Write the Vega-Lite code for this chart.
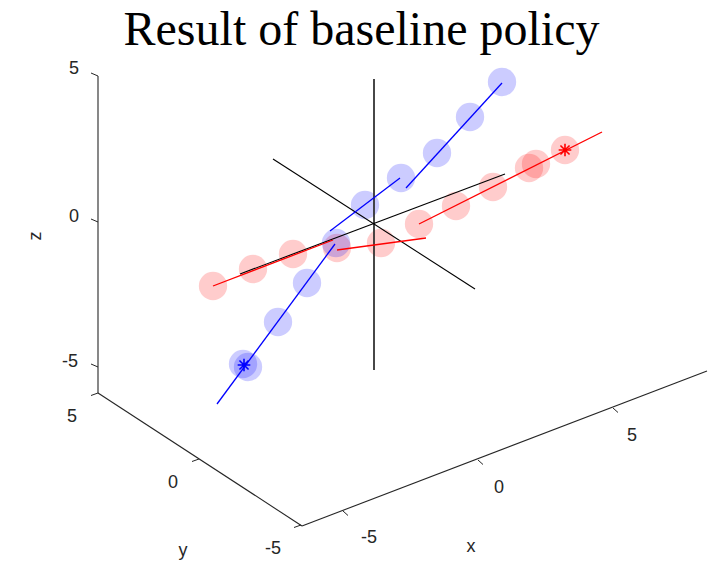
{
  "$schema": "https://vega.github.io/schema/vega-lite/v6.json",
  "width": 723,
  "height": 564,
  "padding": 0,
  "autosize": "none",
  "background": "white",
  "title": {
    "text": "Result of baseline policy",
    "font": "Liberation Serif",
    "fontSize": 48,
    "fontWeight": "normal",
    "color": "#000000",
    "anchor": "middle",
    "frame": "group",
    "offset": 0,
    "baseline": "alphabetic",
    "dy": 93
  },
  "config": {"view": {"stroke": null}},
  "datasets": {
    "circles": [
      {"agent": "red", "u": 213, "v": 286},
      {"agent": "red", "u": 253, "v": 269},
      {"agent": "red", "u": 293, "v": 254},
      {"agent": "red", "u": 337, "v": 248},
      {"agent": "red", "u": 381, "v": 243},
      {"agent": "red", "u": 419, "v": 224},
      {"agent": "red", "u": 456, "v": 206},
      {"agent": "red", "u": 493, "v": 187},
      {"agent": "red", "u": 529, "v": 168},
      {"agent": "red", "u": 536, "v": 164},
      {"agent": "red", "u": 565, "v": 150},
      {"agent": "blue", "u": 243, "v": 364},
      {"agent": "blue", "u": 248, "v": 367},
      {"agent": "blue", "u": 278, "v": 322},
      {"agent": "blue", "u": 307, "v": 283},
      {"agent": "blue", "u": 336, "v": 243},
      {"agent": "blue", "u": 365, "v": 205},
      {"agent": "blue", "u": 401, "v": 178},
      {"agent": "blue", "u": 437, "v": 153},
      {"agent": "blue", "u": 470, "v": 117},
      {"agent": "blue", "u": 502, "v": 82}
    ],
    "paths": [
      {"agent": "red", "u": 213, "v": 286, "u2": 333, "v2": 240},
      {"agent": "red", "u": 337, "v": 250, "u2": 426, "v2": 238},
      {"agent": "red", "u": 419, "v": 224, "u2": 602, "v2": 132},
      {"agent": "blue", "u": 217, "v": 404, "u2": 335, "v2": 244},
      {"agent": "blue", "u": 330, "v": 231, "u2": 400, "v2": 178},
      {"agent": "blue", "u": 406, "v": 188, "u2": 502, "v2": 83}
    ],
    "starts": [
      {"agent": "red", "u": 565, "v": 150},
      {"agent": "blue", "u": 244, "v": 365}
    ],
    "box": [
      {"edge": "z", "u": 98, "v": 76, "u2": 98, "v2": 393},
      {"edge": "y", "u": 98, "v": 393, "u2": 302, "v2": 526},
      {"edge": "x", "u": 302, "v": 526, "u2": 707, "v2": 371}
    ],
    "origin": [
      {"dir": "z", "u": 374, "v": 79, "u2": 374, "v2": 370},
      {"dir": "y", "u": 273, "v": 159, "u2": 475, "v2": 289},
      {"dir": "x", "u": 240, "v": 274, "u2": 505, "v2": 174}
    ],
    "ticks": [
      {"u": 98, "v": 76, "u2": 91, "v2": 73},
      {"u": 98, "v": 222, "u2": 91, "v2": 219},
      {"u": 98, "v": 367, "u2": 91, "v2": 364},
      {"u": 98, "v": 393, "u2": 91, "v2": 395.5},
      {"u": 199, "v": 459, "u2": 192, "v2": 461.5},
      {"u": 301, "v": 525, "u2": 294, "v2": 527.5},
      {"u": 343, "v": 511, "u2": 348, "v2": 515.5},
      {"u": 478, "v": 460, "u2": 483, "v2": 464.5},
      {"u": 613, "v": 408, "u2": 618, "v2": 412.5}
    ],
    "labels": [
      {"text": "5", "u": 74, "v": 69},
      {"text": "0", "u": 74, "v": 217},
      {"text": "-5", "u": 70, "v": 362},
      {"text": "5", "u": 72, "v": 417},
      {"text": "0", "u": 173, "v": 483},
      {"text": "-5", "u": 273, "v": 549},
      {"text": "y", "u": 183, "v": 551},
      {"text": "-5", "u": 369, "v": 538},
      {"text": "0", "u": 499, "v": 488},
      {"text": "5", "u": 632, "v": 436},
      {"text": "x", "u": 471, "v": 547}
    ],
    "zlabel": [
      {"text": "z", "u": 36, "v": 236}
    ]
  },
  "encoding": {
    "x": {"field": "u", "type": "quantitative", "scale": {"domain": [0, 723], "nice": false, "zero": false}, "axis": null},
    "y": {"field": "v", "type": "quantitative", "scale": {"domain": [0, 564], "nice": false, "zero": false, "reverse": true}, "axis": null}
  },
  "layer": [
    {
      "data": {"name": "box"},
      "mark": {"type": "rule", "color": "#262626", "strokeWidth": 1.1},
      "encoding": {"x2": {"field": "u2"}, "y2": {"field": "v2"}}
    },
    {
      "data": {"name": "ticks"},
      "mark": {"type": "rule", "color": "#262626", "strokeWidth": 1},
      "encoding": {"x2": {"field": "u2"}, "y2": {"field": "v2"}}
    },
    {
      "data": {"name": "circles"},
      "mark": {"type": "circle", "size": 804, "opacity": 0.2, "stroke": null},
      "encoding": {
        "color": {"field": "agent", "type": "nominal", "scale": {"domain": ["red", "blue"], "range": ["#ff0000", "#0000ff"]}, "legend": null}
      }
    },
    {
      "data": {"name": "origin"},
      "transform": [{"filter": "datum.dir === 'z'"}],
      "mark": {"type": "rule", "color": "#333333", "strokeWidth": 1.8},
      "encoding": {"x2": {"field": "u2"}, "y2": {"field": "v2"}}
    },
    {
      "data": {"name": "origin"},
      "transform": [{"filter": "datum.dir !== 'z'"}],
      "mark": {"type": "rule", "color": "#000000", "strokeWidth": 1.1},
      "encoding": {"x2": {"field": "u2"}, "y2": {"field": "v2"}}
    },
    {
      "data": {"name": "paths"},
      "mark": {"type": "rule", "strokeWidth": 1.3},
      "encoding": {
        "x2": {"field": "u2"},
        "y2": {"field": "v2"},
        "color": {"field": "agent", "type": "nominal", "scale": {"domain": ["red", "blue"], "range": ["#ff0000", "#0000ff"]}, "legend": null}
      }
    },
    {
      "data": {"name": "starts"},
      "mark": {
        "type": "point",
        "shape": "M-1,0L1,0M0,-1L0,1M-0.72,-0.72L0.72,0.72M-0.72,0.72L0.72,-0.72",
        "filled": false,
        "size": 160,
        "strokeWidth": 1.6,
        "opacity": 1
      },
      "encoding": {
        "stroke": {"field": "agent", "type": "nominal", "scale": {"domain": ["red", "blue"], "range": ["#ff0000", "#0000ff"]}, "legend": null}
      }
    },
    {
      "data": {"name": "labels"},
      "mark": {"type": "text", "font": "Liberation Sans", "fontSize": 18, "color": "#262626", "align": "center", "baseline": "middle"},
      "encoding": {"text": {"field": "text"}}
    },
    {
      "data": {"name": "zlabel"},
      "mark": {"type": "text", "font": "Liberation Sans", "fontSize": 18, "color": "#262626", "align": "center", "baseline": "middle", "angle": 270},
      "encoding": {"text": {"field": "text"}}
    }
  ]
}
